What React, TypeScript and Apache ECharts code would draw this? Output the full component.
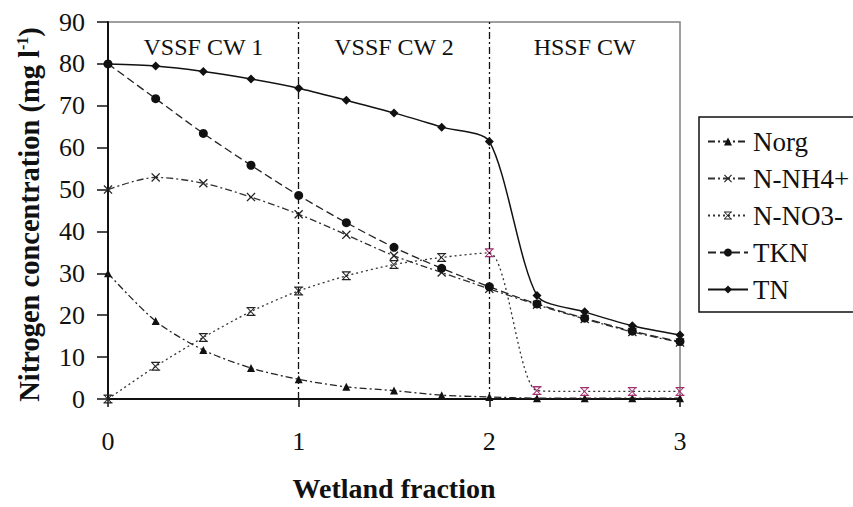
import React, { useEffect, useRef } from "react";
import * as echarts from "echarts";

const xs = [0, 0.25, 0.5, 0.75, 1, 1.25, 1.5, 1.75, 2, 2.25, 2.5, 2.75, 3];
const norg = [30, 18.6, 11.7, 7.4, 4.7, 2.9, 2.0, 0.9, 0.5, 0.2, 0.2, 0.2, 0.2];
const nh4 = [50, 52.9, 51.5, 48.2, 44.1, 39.2, 34.2, 30.2, 26.3, 22.5, 19.1, 16.0, 13.5];
const no3 = [0, 7.8, 14.7, 20.9, 25.8, 29.4, 32.1, 33.8, 34.9, 2.0, 1.8, 1.8, 1.8];
const tkn = [80, 71.7, 63.4, 55.8, 48.6, 42.1, 36.2, 31.2, 26.8, 22.7, 19.3, 16.2, 13.7];
const tn = [80, 79.5, 78.2, 76.4, 74.2, 71.3, 68.3, 64.9, 61.5, 24.7, 20.8, 17.5, 15.3];

const seriesNames = ["Norg", "N-NH4+", "N-NO3-", "TKN", "TN"];
const zones = ["VSSF CW 1", "VSSF CW 2", "HSSF CW"];
const zoneBounds = [0, 1, 2, 3];
const dividers = [1, 2];
const xTicks = [0, 1, 2, 3];

const FONT = "'Liberation Serif', 'Times New Roman', serif";
const XSYM = "path://M0,1 L1,0 L5,4 L9,0 L10,1 L6,5 L10,9 L9,10 L5,6 L1,10 L0,9 L4,5 Z";
const HSYM =
  "path://M0,0H10V1.4H0Z M0,8.6H10V10H0Z M1.2,0.5L9.6,9.3L8.8,10L0.4,1.2Z M8.8,0L9.6,0.7L1.2,9.5L0.4,8.8Z";

export default function App() {
  const ref = useRef<HTMLDivElement>(null);
  useEffect(() => {
    if (!ref.current) return;
    const chart = echarts.init(ref.current, undefined, { renderer: "svg" });
    const pts = (arr: number[]) => xs.map((x, i) => [x, arr[i]]);
    const no3Data = xs.map((x, i) =>
      x >= 2 ? { value: [x, no3[i]], itemStyle: { color: "#a0306e" } } : { value: [x, no3[i]] }
    );
    const option: any = {
      animation: false,
      textStyle: { fontFamily: FONT },
      grid: {
        left: 108,
        right: 173,
        top: 22,
        bottom: 102,
        show: true,
        borderColor: "#808080",
        borderWidth: 1.5,
      },
      legend: {
        orient: "vertical",
        left: 699,
        top: 117,
        padding: [11, 10, 9, 8],
        itemWidth: 40,
        itemHeight: 10,
        itemGap: 10,
        borderColor: "#111",
        borderWidth: 1.5,
        data: seriesNames,
        textStyle: { fontFamily: FONT, fontSize: 27, color: "#111" },
      },
      xAxis: {
        type: "value",
        min: 0,
        max: 3,
        interval: 1,
        splitLine: { show: false },
        axisLine: { lineStyle: { color: "#111", width: 2 } },
        axisTick: { show: true, length: 8, lineStyle: { color: "#111", width: 1.5 } },
        axisLabel: {
          fontSize: 26,
          color: "#111",
          margin: 29,
          fontFamily: FONT,
          formatter: (v: number) => (xTicks.includes(v) ? String(v) : ""),
        },
        name: "Wetland fraction",
        nameLocation: "middle",
        nameGap: 75,
        nameTextStyle: { fontSize: 28, fontWeight: "bold", color: "#111", fontFamily: FONT },
      },
      yAxis: {
        type: "value",
        min: 0,
        max: 90,
        interval: 10,
        splitLine: { show: false },
        axisLine: { show: true, lineStyle: { color: "#111", width: 2 } },
        axisTick: { show: true, length: 11, lineStyle: { color: "#111", width: 1.5 } },
        axisLabel: { fontSize: 26, color: "#111", margin: 23, fontFamily: FONT },
        name: "{b|Nitrogen concentration (mg l}{s|-1}{e|)}",
        nameLocation: "middle",
        nameGap: 64,
        nameRotate: 90,
        nameTextStyle: {
          rich: {
            b: { fontSize: 28.5, fontWeight: "bold", color: "#111", fontFamily: FONT },
            e: { fontSize: 28.5, fontWeight: "bold", color: "#111", fontFamily: FONT, padding: [0, 8, 0, 0] },
            s: { fontSize: 16, fontWeight: "bold", color: "#111", fontFamily: FONT, verticalAlign: "top", padding: [0, 0, 14, 0] },
          },
        },
      },
      series: [
        {
          name: "Norg",
          type: "line",
          smooth: 0.3,
          data: pts(norg),
          symbol: "triangle",
          symbolSize: 8,
          itemStyle: { color: "#111" },
          lineStyle: { color: "#222", width: 1.3, type: [7, 3, 2, 3] },
        },
        {
          name: "N-NH4+",
          type: "line",
          smooth: 0.3,
          data: pts(nh4),
          symbol: XSYM,
          symbolSize: 9,
          itemStyle: { color: "#222" },
          lineStyle: { color: "#333", width: 1.3, type: [7, 3, 2, 3] },
        },
        {
          name: "N-NO3-",
          type: "line",
          smooth: 0.25,
          data: no3Data,
          symbol: HSYM,
          symbolSize: 9,
          itemStyle: { color: "#222" },
          lineStyle: { color: "#333", width: 1.3, type: [2, 3] },
        },
        {
          name: "TKN",
          type: "line",
          smooth: 0.3,
          data: pts(tkn),
          symbol: "circle",
          symbolSize: 9,
          itemStyle: { color: "#111" },
          lineStyle: { color: "#222", width: 1.3, type: [8, 4] },
        },
        {
          name: "TN",
          type: "line",
          smooth: 0.25,
          data: pts(tn),
          symbol: "diamond",
          symbolSize: 9,
          itemStyle: { color: "#111" },
          lineStyle: { color: "#111", width: 1.5, type: "solid" },
          markLine: {
            silent: true,
            symbol: ["none", "none"],
            label: { show: false },
            lineStyle: { color: "#111", width: 1.3, type: [7, 3, 2, 3] },
            data: dividers.map((d) => ({ xAxis: d })),
          },
          markArea: {
            silent: true,
            itemStyle: { color: "rgba(0,0,0,0)" },
            label: {
              show: true,
              position: "insideTop",
              distance: 13,
              fontSize: 24,
              color: "#111",
              fontFamily: FONT,
            },
            data: zones.map((z, i) => [
              { name: z, xAxis: zoneBounds[i] },
              { xAxis: zoneBounds[i + 1] },
            ]),
          },
        },
      ],
    };
    chart.setOption(option);
    return () => chart.dispose();
  }, []);
  return (
    <div
      ref={ref}
      style={{ position: "fixed", left: 0, top: 0, width: 853, height: 507, background: "#fff" }}
    />
  );
}
